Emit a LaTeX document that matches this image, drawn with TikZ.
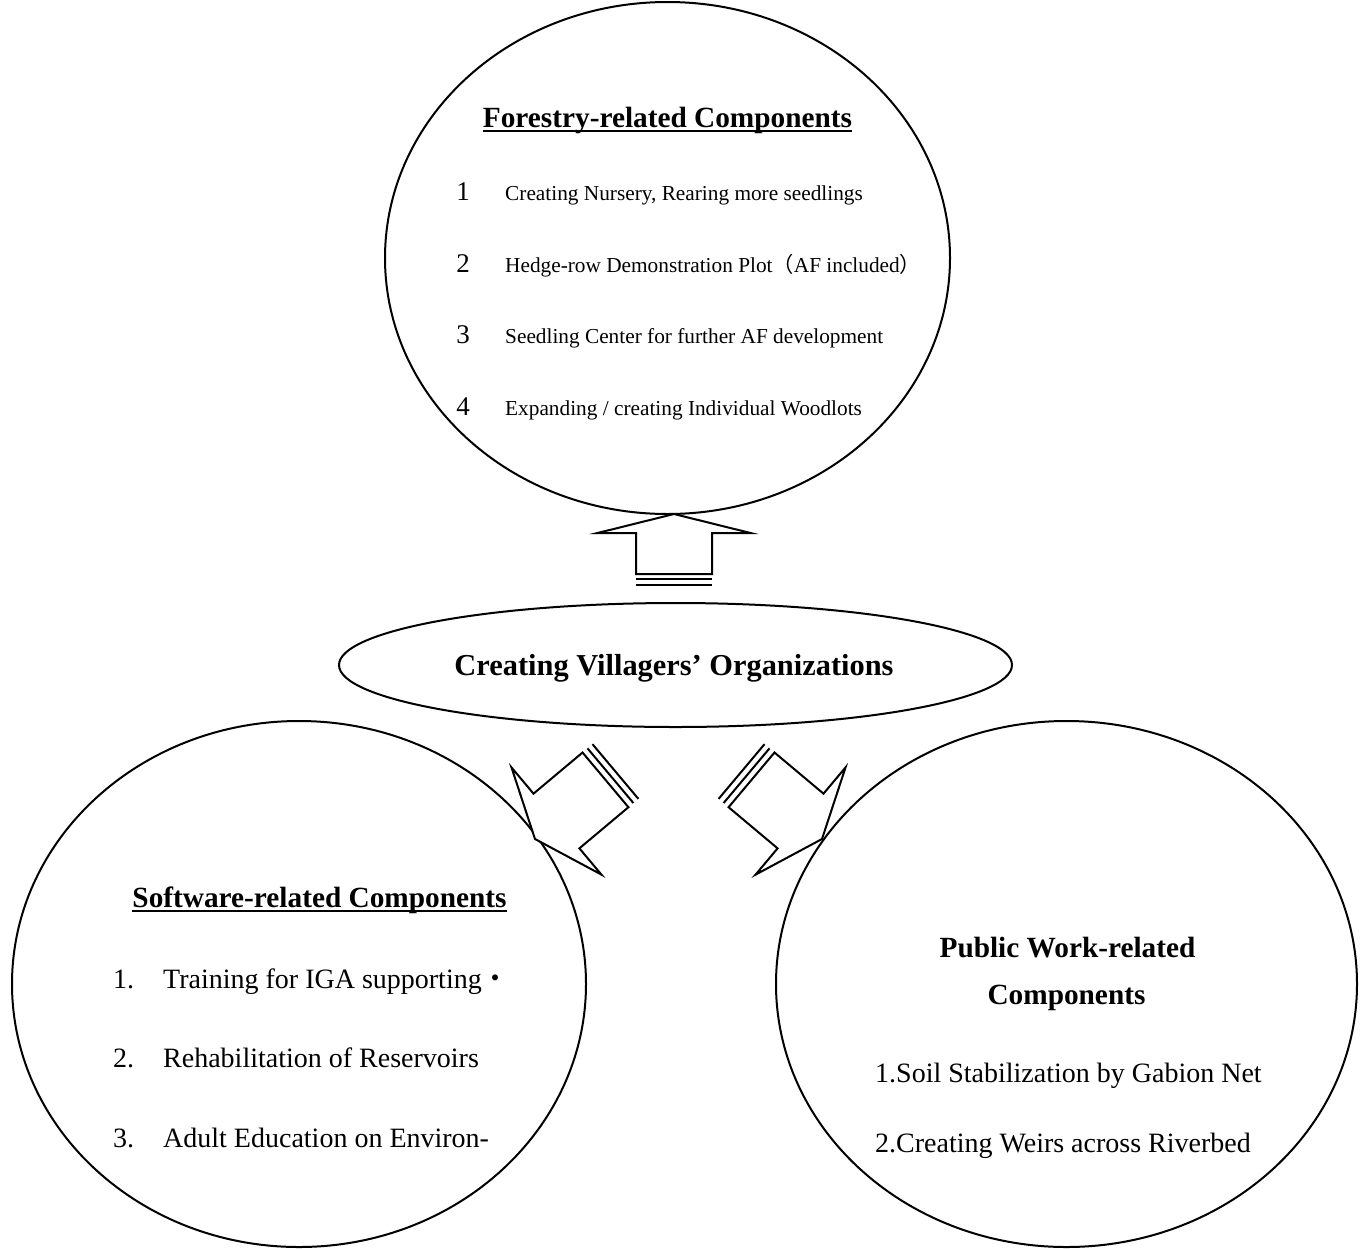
\documentclass[tikz,border=0pt]{standalone}
\usepackage{fontspec}
\setmainfont{Liberation Serif}
\newfontfamily\cjk{Noto Sans CJK JP}
\usetikzlibrary{shapes.geometric}
\tikzset{
 oval/.style={ellipse, draw, line width=2pt, inner sep=0pt},
 head/.style={font=\fontsize{29.3}{34}\selectfont\bfseries, inner sep=0pt, anchor=base},
 fitem/.style={font=\fontsize{21.3}{25}\selectfont, inner sep=0pt, anchor=base west},
 fnum/.style={font=\fontsize{27}{32}\selectfont, inner sep=0pt, anchor=base},
 item/.style={font=\fontsize{28}{32}\selectfont, inner sep=0pt, anchor=base west},
 uline/.style={line width=2pt},
 barrow/.style={draw, line width=2pt, fill=white, line join=miter},
 stripe/.style={line width=2pt},
}
\begin{document}
\begin{tikzpicture}[x=1pt,y=-1pt]
\useasboundingbox (0,0) rectangle (1368,1248);
% ellipses
\node[oval, minimum width=565pt, minimum height=512pt] (forest) at (667.5,258) {};
\node[oval, minimum width=673pt, minimum height=124pt] (org) at (675.5,665) {};
\node[oval, minimum width=574pt, minimum height=526pt] (soft) at (299,984) {};
\node[oval, minimum width=581pt, minimum height=526pt] (pub) at (1066.5,984) {};

% up arrow
\begin{scope}[shift={(674,514)}]
\draw[barrow] (0,0) -- (76.5,19) -- (38,19) -- (38,60) -- (-38,60) -- (-38,19) -- (-76.5,19) -- cycle;
\draw[stripe] (-38,65) -- (38,65);
\draw[stripe] (-38,70.5) -- (38,70.5);
\end{scope}
% left arrow
\begin{scope}[shift={(535,839)}, rotate=130]
\draw[barrow] (0,0) -- (70,28) -- (35.7,28) -- (35.7,92) -- (-35.7,92) -- (-35.7,28) -- (-70,28) -- cycle;
\draw[stripe] (-35.7,98.5) -- (35.7,98.5);
\draw[stripe] (-35.7,105) -- (35.7,105);
\end{scope}
% right arrow
\begin{scope}[shift={(822,839)}, rotate=-130]
\draw[barrow] (0,0) -- (70,28) -- (35.7,28) -- (35.7,92) -- (-35.7,92) -- (-35.7,28) -- (-70,28) -- cycle;
\draw[stripe] (-35.7,98.5) -- (35.7,98.5);
\draw[stripe] (-35.7,105) -- (35.7,105);
\end{scope}

% forestry
\node[head] (fh) at (667.5,127) {Forestry-related Components};
\draw[uline] ([yshift=-4pt]fh.base west) -- ([yshift=-4pt]fh.base east);
\node[fnum] (f1n) at (463,200) {1};
\node[fnum] (f2n) at (463,272) {2};
\node[fnum] (f3n) at (463,343) {3};
\node[fnum] (f4n) at (463,415) {4};
\node[fitem] (f1) at (505,200) {Creating Nursery, Rearing more seedlings};
\node[fitem] (f2) at (505,272) {Hedge-row Demonstration Plot{\cjk （}AF included{\cjk ）}};
\node[fitem] (f3) at (505,343) {Seedling Center for further AF development};
\node[fitem] (f4) at (505,415) {Expanding / creating Individual Woodlots};

% middle
\node[head, font=\fontsize{30.4}{35}\selectfont\bfseries] (oh) at (674,675) {Creating Villagers’ Organizations};

% software
\node[head] (sh) at (319.5,907) {Software-related Components};
\draw[uline] ([yshift=-4pt]sh.base west) -- ([yshift=-4pt]sh.base east);
\node[item] (s1n) at (113,988) {1.};
\node[item] (s2n) at (113,1067) {2.};
\node[item] (s3n) at (113,1147) {3.};
\node[item] (s1) at (163,988) {Training for IGA supporting{\cjk ・}};
\node[item] (s2) at (163,1067) {Rehabilitation of Reservoirs};
\node[item] (s3) at (163,1147) {Adult Education on Environ-};

% public work
\node[head] (ph1) at (1067.5,957) {Public Work-related};
\node[head] (ph2) at (1066.5,1004) {Components};
\node[item] (p1) at (875,1082) {1.Soil Stabilization by Gabion Net};
\node[item] (p2) at (875,1152) {2.Creating Weirs across Riverbed};
\end{tikzpicture}
\end{document}
